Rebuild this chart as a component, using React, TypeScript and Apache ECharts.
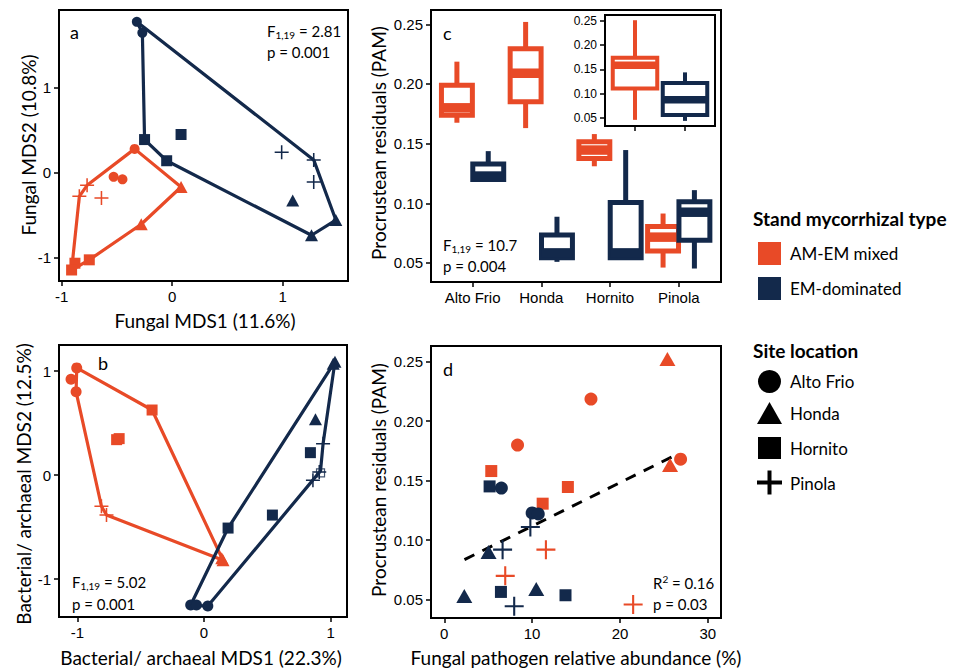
import React, { useEffect, useRef } from 'react';
import * as echarts from 'echarts';

const ORANGE = '#E84A27';
const NAVY = '#13294B';

// ---------- Panel a: fungal NMDS ----------
const aMixedCircle = [[-0.34, 0.28], [-0.53, -0.05], [-0.45, -0.08]];
const aMixedTriangle = [[0.08, -0.17], [-0.28, -0.61]];
const aMixedSquare = [[-0.75, -1.03], [-0.88, -1.07], [-0.91, -1.15]];
const aMixedPlus = [[-0.77, -0.15], [-0.84, -0.28], [-0.64, -0.3]];
const aEMCircle = [[-0.32, 1.78], [-0.27, 1.65]];
const aEMTriangle = [[1.09, -0.33], [1.48, -0.56], [1.26, -0.74]];
const aEMSquare = [[-0.25, 0.39], [0.08, 0.45], [-0.05, 0.14]];
const aEMPlus = [[0.99, 0.24], [1.28, 0.15], [1.28, -0.11]];
const aMixedHull = [[-0.34, 0.28], [0.08, -0.17], [-0.28, -0.61], [-0.75, -1.03], [-0.91, -1.15], [-0.84, -0.28], [-0.77, -0.15], [-0.34, 0.28]];
const aEMHull = [[-0.32, 1.78], [1.28, 0.15], [1.48, -0.56], [1.26, -0.74], [-0.05, 0.14], [-0.25, 0.39], [-0.27, 1.65], [-0.32, 1.78]];

// ---------- Panel b: bacterial/archaeal NMDS ----------
const bMixedCircle = [[-1.005, 1.03], [-1.05, 0.92], [-1.01, 0.8]];
const bMixedTriangle = [[0.15, -0.82], [0.14, -0.8]];
const bMixedSquare = [[-0.41, 0.625], [-0.69, 0.34], [-0.67, 0.35]];
const bMixedPlus = [[-0.81, -0.3], [-0.77, -0.385]];
const bEMCircle = [[-0.105, -1.25], [-0.06, -1.25], [0.03, -1.26]];
const bEMTriangle = [[1.034, 1.09], [1.02, 1.07], [0.88, 0.535]];
const bEMSquare = [[0.84, 0.215], [0.54, -0.385], [0.19, -0.51]];
const bEMPlus = [[0.94, 0.3], [0.91, 0.03], [0.86, -0.05]];
const bEMOpenSquare = [[0.92, 0.02]];
const bMixedHull = [[-1.005, 1.03], [-0.41, 0.625], [0.15, -0.82], [-0.77, -0.385], [-0.81, -0.3], [-1.01, 0.8], [-1.005, 1.03]];
const bEMHull = [[-0.105, -1.25], [0.19, -0.51], [1.034, 1.09], [0.94, 0.3], [0.92, 0.04], [0.03, -1.26], [-0.105, -1.25]];

// ---------- Panel c: Procrustean residuals by site ----------
const cSites = ['Alto Frio', 'Honda', 'Hornito', 'Pinola'];
// [min, q1, median, q3, max]
const cMixed = [
  [0.1675, 0.1737, 0.18, 0.199, 0.2187],
  [0.163, 0.185, 0.209, 0.2296, 0.252],
  [0.131, 0.1376, 0.1446, 0.1516, 0.158],
  [0.0461, 0.06, 0.0716, 0.0805, 0.0914],
];
const cEM = [
  [0.119, 0.12, 0.1228, 0.133, 0.1437],
  [0.0509, 0.0543, 0.0584, 0.0733, 0.0887],
  [0.053, 0.0543, 0.0584, 0.1007, 0.1446],
  [0.0453, 0.069, 0.0925, 0.1012, 0.111],
];
const insetMixed = [0.0466, 0.111, 0.1586, 0.174, 0.251];
const insetEM = [0.0445, 0.0568, 0.088, 0.122, 0.144];
const cYTicks = [0.05, 0.1, 0.15, 0.2, 0.25];

// ---------- Panel d: residuals vs pathogen abundance ----------
const dMixedCircle = [[16.7, 0.2184], [8.34, 0.1798], [26.9, 0.168]];
const dMixedTriangle = [[25.4, 0.252], [25.7, 0.163]];
const dMixedSquare = [[5.35, 0.158], [14.07, 0.1446], [11.2, 0.1306]];
const dMixedPlus = [[11.57, 0.092], [6.94, 0.07], [21.5, 0.046]];
const dEMCircle = [[6.5, 0.1437], [10.0, 0.1228], [10.7, 0.122]];
const dEMTriangle = [[5.04, 0.09], [2.28, 0.053], [10.47, 0.059]];
const dEMSquare = [[5.16, 0.1451], [6.45, 0.0565], [13.8, 0.0537]];
const dEMPlus = [[9.8, 0.111], [6.64, 0.092], [7.96, 0.0445]];
const dTrend = [[2.3, 0.0836], [26.2, 0.1709]];
const dXTicks = [0, 10, 20, 30];

const mdsTicks = [-1, 0, 1];

const PLUS = 'path://M0,8.9H20V11.1H0Z M8.9,0H11.1V20H8.9Z';
const TICK_FONT = 'Liberation Sans';
const TXT_FONT = 'Lato';

function xAxisCfg(gi: number, min: number, max: number, ticks: number[], fmt: any, fontSize = 15, showLabel = true) {
  return {
    type: 'value', gridIndex: gi, min, max, position: 'bottom',
    axisLine: { show: false, onZero: false }, splitLine: { show: false },
    axisTick: { show: true, length: 5, customValues: ticks, lineStyle: { color: '#000', width: 1.5 } },
    axisLabel: { show: showLabel, customValues: ticks, formatter: fmt, color: '#000', fontSize, fontFamily: TICK_FONT, margin: 8 },
  };
}
function yAxisCfg(gi: number, min: number, max: number, ticks: number[], fmt: any, fontSize = 15) {
  return {
    type: 'value', gridIndex: gi, min, max, position: 'left',
    axisLine: { show: false, onZero: false }, splitLine: { show: false },
    axisTick: { show: true, length: 5, customValues: ticks, lineStyle: { color: '#000', width: 1.5 } },
    axisLabel: { customValues: ticks, formatter: fmt, color: '#000', fontSize, fontFamily: TICK_FONT, margin: 8 },
  };
}

function sc(gi: number, data: number[][], symbol: string, color: string, size: any) {
  return {
    type: 'scatter', xAxisIndex: gi, yAxisIndex: gi, data, symbol, symbolSize: size,
    itemStyle: { color, opacity: 1 }, z: 4, silent: true,
  };
}
function hull(gi: number, data: number[][], color: string) {
  return {
    type: 'line', xAxisIndex: gi, yAxisIndex: gi, data, symbol: 'none',
    lineStyle: { color, width: 3.2 }, z: 3, silent: true,
  };
}
function boxes(gi: number, stats: number[][], positions: number[], offset: number, w: number, color: string, lw: number) {
  const data = stats.map((s, i) => [positions[i], ...s]);
  return {
    type: 'custom', xAxisIndex: gi, yAxisIndex: gi, data, silent: true, z: 3,
    encode: { x: 0, y: [1, 2, 3, 4, 5] },
    renderItem: (params: any, api: any) => {
      const x = api.value(0) + offset;
      const lo = api.value(1), q1 = api.value(2), med = api.value(3), q3 = api.value(4), hi = api.value(5);
      const tl = api.coord([x - w / 2, q3]);
      const br = api.coord([x + w / 2, q1]);
      const mL = api.coord([x - w / 2, med]);
      const mR = api.coord([x + w / 2, med]);
      const pHi = api.coord([x, hi]);
      const pQ3 = api.coord([x, q3]);
      const pQ1 = api.coord([x, q1]);
      const pLo = api.coord([x, lo]);
      return {
        type: 'group',
        children: [
          { type: 'line', shape: { x1: pHi[0], y1: pHi[1], x2: pQ3[0], y2: pQ3[1] }, style: { stroke: color, lineWidth: lw } },
          { type: 'line', shape: { x1: pQ1[0], y1: pQ1[1], x2: pLo[0], y2: pLo[1] }, style: { stroke: color, lineWidth: lw } },
          { type: 'rect', shape: { x: tl[0], y: tl[1], width: br[0] - tl[0], height: br[1] - tl[1] }, style: { fill: '#fff', stroke: color, lineWidth: lw } },
          { type: 'line', shape: { x1: mL[0], y1: mL[1], x2: mR[0], y2: mR[1] }, style: { stroke: color, lineWidth: lw * 1.9 } },
        ],
      };
    },
  };
}

const richBase = {
  a: { fontSize: 15, fontFamily: TXT_FONT, fill: '#000', lineHeight: 18 },
  s: { fontSize: 10, fontFamily: TXT_FONT, fill: '#000', lineHeight: 10, verticalAlign: 'bottom' },
  u: { fontSize: 10, fontFamily: TXT_FONT, fill: '#000', lineHeight: 10, verticalAlign: 'top' },
};
function fStat(x: number, y: number, v: string) {
  return { type: 'text', x, y, z: 10, style: { text: `{a|F}{s|1,19}{a| = ${v}}`, rich: richBase, verticalAlign: 'middle', align: 'left' } };
}
function txt(x: number, y: number, t: string, size: number, opts: any = {}) {
  return {
    type: 'text', x, y, z: 10, rotation: opts.rotation || 0,
    style: { text: t, fontSize: size, fontFamily: TXT_FONT, fontWeight: opts.bold ? 'bold' : 'normal', fill: '#000', align: opts.align || 'left', verticalAlign: 'middle' },
  };
}

export default function App() {
  const ref = useRef<HTMLDivElement>(null);
  useEffect(() => {
    if (!ref.current) return;
    const chart = echarts.init(ref.current, null, { renderer: 'svg' });
    const gridBase = { show: true, borderColor: '#000', borderWidth: 2, backgroundColor: '#fff', containLabel: false };
    const f2 = (v: number) => v.toFixed(2);
    const fi = (v: number) => String(Math.round(v));
    const fc = (v: number) => cSites[Math.round(v)];
    const option: any = {
      animation: false,
      backgroundColor: '#fff',
      grid: [
        { ...gridBase, left: 59, top: 10, width: 289, height: 271 },
        { ...gridBase, left: 59, top: 345, width: 288, height: 272 },
        { ...gridBase, left: 431, top: 10, width: 290, height: 272 },
        { ...gridBase, left: 431, top: 346, width: 290, height: 272 },
        { ...gridBase, left: 605, top: 15, width: 110, height: 111, z: 5 },
      ],
      xAxis: [
        xAxisCfg(0, -1.024, 1.59, mdsTicks, fi),
        xAxisCfg(1, -1.145, 1.129, mdsTicks, fi),
        xAxisCfg(2, -0.605, 3.615, [0, 1, 2, 3], fc, 15),
        xAxisCfg(3, -1.51, 31.5, dXTicks, fi),
        { ...xAxisCfg(4, -0.6, 1.6, [0, 1], fi, 12, false), z: 6 },
      ],
      yAxis: [
        yAxisCfg(0, -1.28, 1.92, mdsTicks, fi),
        yAxisCfg(1, -1.365, 1.25, mdsTicks, fi),
        yAxisCfg(2, 0.034, 0.262, cYTicks, f2),
        yAxisCfg(3, 0.0346, 0.263, cYTicks, f2),
        { ...yAxisCfg(4, 0.034, 0.2617, cYTicks, f2, 12), z: 6 },
      ],
      series: [
        hull(0, aMixedHull, ORANGE),
        hull(0, aEMHull, NAVY),
        sc(0, aMixedCircle, 'circle', ORANGE, 10),
        sc(0, aMixedTriangle, 'triangle', ORANGE, [13, 12]),
        sc(0, aMixedSquare, 'rect', ORANGE, 11),
        sc(0, aMixedPlus, PLUS, ORANGE, 14),
        sc(0, aEMCircle, 'circle', NAVY, 10),
        sc(0, aEMTriangle, 'triangle', NAVY, [13, 12]),
        sc(0, aEMSquare, 'rect', NAVY, 11),
        sc(0, aEMPlus, PLUS, NAVY, 14),

        hull(1, bMixedHull, ORANGE),
        hull(1, bEMHull, NAVY),
        sc(1, bMixedCircle, 'circle', ORANGE, 11),
        sc(1, bMixedTriangle, 'triangle', ORANGE, [13, 12]),
        sc(1, bMixedSquare, 'rect', ORANGE, 11),
        sc(1, bMixedPlus, PLUS, ORANGE, 14),
        sc(1, bEMCircle, 'circle', NAVY, 11),
        sc(1, bEMTriangle, 'triangle', NAVY, [13, 12]),
        sc(1, bEMSquare, 'rect', NAVY, 11),
        sc(1, bEMPlus, PLUS, NAVY, 14),
        { ...sc(1, bEMOpenSquare, 'rect', NAVY, 8), itemStyle: { color: 'rgba(255,255,255,0)', borderColor: NAVY, borderWidth: 1.2 } },

        boxes(2, cMixed, [0, 1, 2, 3], -0.228, 0.45, ORANGE, 5),
        boxes(2, cEM, [0, 1, 2, 3], 0.228, 0.45, NAVY, 5),
        { ...boxes(4, [insetMixed], [0], 0, 0.89, ORANGE, 4), z: 7 },
        { ...boxes(4, [insetEM], [1], 0, 0.89, NAVY, 4), z: 7 },

        {
          type: 'line', xAxisIndex: 3, yAxisIndex: 3, data: dTrend, symbol: 'none', z: 3, silent: true,
          lineStyle: { color: '#000', width: 3, type: [11, 9] },
        },
        sc(3, dMixedCircle, 'circle', ORANGE, 13),
        sc(3, dMixedTriangle, 'triangle', ORANGE, [16, 14]),
        sc(3, dMixedSquare, 'rect', ORANGE, 12),
        sc(3, dMixedPlus, PLUS, ORANGE, 19),
        sc(3, dEMCircle, 'circle', NAVY, 13),
        sc(3, dEMTriangle, 'triangle', NAVY, [16, 14]),
        sc(3, dEMSquare, 'rect', NAVY, 12),
        sc(3, dEMPlus, PLUS, NAVY, 19),
      ],
      graphic: [
        // panel letters
        txt(70, 32, 'a', 18),
        txt(98, 363, 'b', 18),
        txt(443, 33, 'c', 18),
        txt(443, 369, 'd', 18),
        // stats
        fStat(267, 31, '2.81'),
        txt(267, 52, 'p = 0.001', 15),
        fStat(72, 582, '5.02'),
        txt(72, 604, 'p = 0.001', 15),
        fStat(443, 245, '10.7'),
        txt(443, 266, 'p = 0.004', 15),
        {
          type: 'text', x: 653, y: 583, z: 10,
          style: { text: '{a|R}{u|2}{a| = 0.16}', rich: richBase, verticalAlign: 'middle', align: 'left' },
        },
        txt(653, 604, 'p = 0.03', 15),
        // axis titles
        txt(205, 320, 'Fungal MDS1 (11.6%)', 19, { align: 'center' }),
        txt(28, 145, 'Fungal MDS2 (10.8%)', 19, { align: 'center', rotation: Math.PI / 2 }),
        txt(201, 657, 'Bacterial/ archaeal MDS1 (22.3%)', 19, { align: 'center' }),
        txt(23, 484, 'Bacterial/ archaeal MDS2 (12.5%)', 19, { align: 'center', rotation: Math.PI / 2 }),
        txt(378, 143, 'Procrustean residuals (PAM)', 19, { align: 'center', rotation: Math.PI / 2 }),
        txt(378, 480, 'Procrustean residuals (PAM)', 19, { align: 'center', rotation: Math.PI / 2 }),
        txt(576, 657, 'Fungal pathogen relative abundance (%)', 19, { align: 'center' }),
        // legend
        txt(753, 218, 'Stand mycorrhizal type', 19, { bold: true }),
        { type: 'rect', shape: { x: 758, y: 242, width: 23, height: 23 }, style: { fill: ORANGE } },
        txt(790, 253.5, 'AM-EM mixed', 17),
        { type: 'rect', shape: { x: 758, y: 277, width: 23, height: 23 }, style: { fill: NAVY } },
        txt(790, 288.5, 'EM-dominated', 17),
        txt(753, 350, 'Site location', 19, { bold: true }),
        { type: 'circle', shape: { cx: 769.5, cy: 381.5, r: 11.5 }, style: { fill: '#000' } },
        txt(790, 381.5, 'Alto Frio', 17),
        { type: 'polygon', shape: { points: [[757, 424], [782, 424], [769.5, 402]] }, style: { fill: '#000' } },
        txt(790, 413, 'Honda', 17),
        { type: 'rect', shape: { x: 758, y: 437, width: 23, height: 22 }, style: { fill: '#000' } },
        txt(790, 448, 'Hornito', 17),
        { type: 'rect', shape: { x: 757, y: 480.5, width: 25, height: 4 }, style: { fill: '#000' } },
        { type: 'rect', shape: { x: 767.5, y: 470.5, width: 4, height: 24 }, style: { fill: '#000' } },
        txt(790, 483, 'Pinola', 17),
      ],
    };
    chart.setOption(option);
    return () => chart.dispose();
  }, []);
  return <div ref={ref} style={{ position: 'fixed', left: 0, top: 0, width: 977, height: 669, background: '#fff' }} />;
}
